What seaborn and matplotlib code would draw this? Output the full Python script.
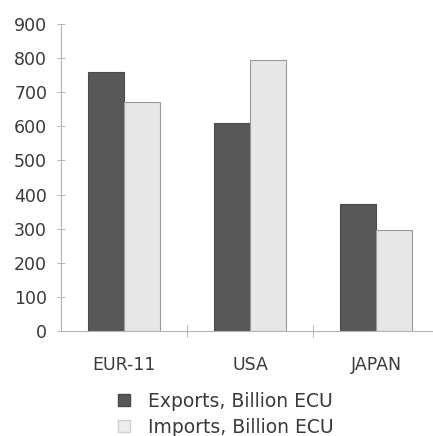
import matplotlib
matplotlib.use("Agg")
import matplotlib.pyplot as plt
import seaborn as sns
import pandas as pd
from matplotlib.lines import Line2D

categories = ["EUR-11", "USA", "JAPAN"]
exports = [760, 610, 372]
imports = [670, 795, 295]
series = ["Exports, Billion ECU", "Imports, Billion ECU"]
yticks = [0, 100, 200, 300, 400, 500, 600, 700, 800, 900]

df = pd.DataFrame({
    "region": categories * 2,
    "value": exports + imports,
    "series": [series[0]] * 3 + [series[1]] * 3,
})

sns.set_style("white")
plt.rcParams["font.family"] = ["DejaVu Sans"]
text_color = "#3a3a3a"

fig = plt.figure(figsize=(4.33, 4.36), dpi=100)
ax = fig.add_axes([0.141, 0.241, 0.859, 0.704])

palette = {series[0]: "#585858", series[1]: "#e7e7e7"}
sns.barplot(data=df, x="region", y="value", hue="series", order=categories,
            hue_order=series, palette=palette, width=0.57, ax=ax,
            edgecolor="#9a9a9a", linewidth=0.8, legend=False)
for p in ax.patches[:3]:
    p.set_edgecolor("#4a4a4a")

ax.set_ylim(0, 900)
ax.set_xlim(-0.5, 2.45)
ax.set_yticks(yticks)
ax.set_yticklabels([str(v) for v in yticks])
ax.set_xlabel("")
ax.set_ylabel("")

for s in ["top", "right"]:
    ax.spines[s].set_visible(False)
for s in ["left", "bottom"]:
    ax.spines[s].set_color("#b5b5b5")
    ax.spines[s].set_linewidth(0.8)

ax.tick_params(axis="y", direction="inout", length=6, width=0.7, color="#b5b5b5",
               labelsize=12.5, labelcolor=text_color, pad=7, left=True)
ax.set_xticks([0, 1, 2])
ax.set_xticklabels(categories)
ax.set_xticks([0.5, 1.5], minor=True)
ax.tick_params(axis="x", which="major", length=0, labelsize=12.5,
               labelcolor=text_color, pad=18)
ax.tick_params(axis="x", which="minor", direction="inout", length=8, width=0.7,
               color="#b5b5b5", bottom=True)

handles = [
    Line2D([], [], marker="s", linestyle="none", markersize=8,
           markerfacecolor="#585858", markeredgecolor="#4a4a4a"),
    Line2D([], [], marker="s", linestyle="none", markersize=8,
           markerfacecolor="#ededed", markeredgecolor="#d0d0d0"),
]
leg = fig.legend(handles, series, loc="upper center", bbox_to_anchor=(0.518, 0.118),
                 frameon=False, fontsize=13.5, labelspacing=0.35, handletextpad=0.8,
                 handlelength=1.0, borderaxespad=0)
for t in leg.get_texts():
    t.set_color(text_color)

fig.savefig("out.png", dpi=100, facecolor="white")
